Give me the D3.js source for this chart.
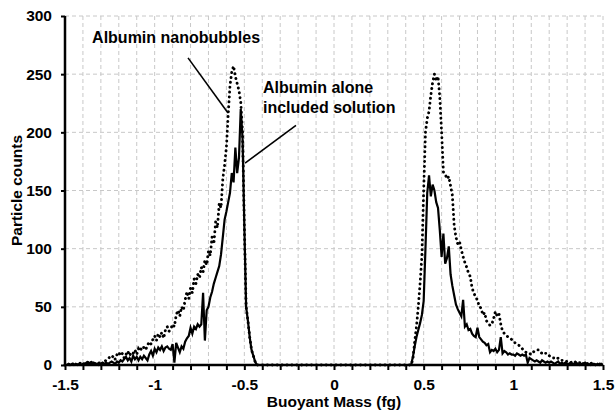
<!DOCTYPE html>
<html>
<head>
<meta charset="utf-8">
<script src="https://cdn.jsdelivr.net/npm/d3@7"></script>
<style>
  body { margin: 0; background: #fff; }
  text { font-family: "Liberation Sans", Arial, sans-serif; font-weight: bold; fill: #000; }
</style>
</head>
<body>
<svg id="canvas"></svg>
<script>
// mass bins (fg), 0.01 fg wide, around each peak
let negMass = d3.range(-150, -41).map(i => i / 100)   // -1.50 .. -0.42
let posMass = d3.range(42, 151).map(i => i / 100)     //  0.42 .. 1.50

// albumin nanobubbles (dotted)
let nanoNeg = [
  0,1,0,1,0,2,1,0,2,1,
  0,2,3,2,1,3,2,1,2,0,
  2,1,3,4,5,7,6,8,5,9,
  11,8,10,6,9,12,8,11,10,13,
  9,14,12,16,15,13,17,20,18,22,
  25,21,27,24,28,23,30,33,29,31,
  35,33,43,47,42,50,47,56,63,57,
  66,62,74,70,78,75,84,80,90,86,
  98,94,110,104,123,118,139,135,160,172,
  187,215,240,252,257,248,242,236,226,200,
  120,50,38,24,13,8,3,0,0
]
let nanoPos = [
  0,0,5,20,33,50,70,93,150,200,
  212,218,232,243,250,244,248,230,200,166,
  164,160,162,154,146,120,110,104,106,99,
  93,88,84,79,76,66,62,58,56,50,
  49,43,45,38,36,34,35,40,46,42,
  44,35,29,27,26,24,23,22,20,19,
  18,17,16,14,12,11,10,10,9,11,
  12,13,13,11,10,9,10,10,8,7,
  6,6,5,6,5,4,4,3,3,3,
  2,3,2,3,2,2,3,1,2,1,
  2,1,2,1,0,1,1,0,1
]

// albumin alone included solution (solid)
let aloneNeg = [
  0,0,1,0,1,0,1,0,1,0,
  1,1,2,1,2,1,2,1,1,2,
  1,2,1,2,1,2,3,2,1,3,
  2,4,3,5,7,4,6,3,8,5,
  7,4,7,5,8,6,4,9,12,8,
  14,11,15,13,16,12,15,16,14,13,
  18,2,19,15,11,16,14,20,23,25,
  32,27,33,31,35,33,35,62,21,47,
  50,58,63,70,75,80,85,95,110,125,
  132,140,148,165,157,187,165,178,220,195,
  120,50,38,24,13,8,3,0,0
]
let alonePos = [
  0,0,7,16,24,30,36,43,55,100,
  148,163,145,155,150,140,135,116,93,113,
  87,92,102,78,68,60,52,48,45,42,
  56,33,35,30,31,27,25,24,32,24,
  22,20,19,17,18,11,13,12,14,11,
  13,24,10,12,11,9,10,9,9,8,
  10,9,8,9,8,9,2,6,5,4,
  3,4,3,2,4,3,2,3,2,3,
  2,1,2,3,1,2,1,2,1,1,
  2,1,1,2,1,0,1,1,2,1,
  1,0,1,1,0,1,0,1,0
]

let xTicks = [-1.5, -1, -0.5, 0, 0.5, 1, 1.5]
let yTicks = [0, 50, 100, 150, 200, 250, 300]

let width = 616
let height = 414
let padLeft = 65
let padRight = 603
let padTop = 16
let padBottom = 365

let canvas = d3.select('#canvas')
               .attr('width', width)
               .attr('height', height)

let xScale = d3.scaleLinear().domain([-1.5, 1.5]).range([padLeft, padRight])
let yScale = d3.scaleLinear().domain([0, 300]).range([padBottom, padTop])

let mass = negMass.concat(posMass)
let nano = nanoNeg.concat(nanoPos)
let alone = aloneNeg.concat(alonePos)

// grid: vertical every 0.1, horizontal every 50
let minorX = d3.range(-14, 16).map(i => i / 10)
canvas.append('g')
      .selectAll('line')
      .data(minorX)
      .enter()
      .append('line')
      .attr('x1', d => xScale(d)).attr('x2', d => xScale(d))
      .attr('y1', padTop).attr('y2', padBottom)
      .attr('stroke', '#c8c8c8').attr('stroke-width', 1)
      .attr('stroke-dasharray', '4,3')

canvas.append('g')
      .selectAll('line')
      .data(yTicks.slice(1))
      .enter()
      .append('line')
      .attr('x1', padLeft).attr('x2', padRight)
      .attr('y1', d => yScale(d)).attr('y2', d => yScale(d))
      .attr('stroke', '#c8c8c8').attr('stroke-width', 1)
      .attr('stroke-dasharray', '4,3')

let line = d3.line()
             .x((d, i) => xScale(mass[i]))
             .y(d => yScale(d))

canvas.append('path')
      .datum(nano)
      .attr('d', line)
      .attr('fill', 'none')
      .attr('stroke', '#000')
      .attr('stroke-width', 2.9)
      .attr('stroke-linecap', 'round')
      .attr('stroke-dasharray', '0.1,4.8')

canvas.append('path')
      .datum(alone)
      .attr('d', line)
      .attr('fill', 'none')
      .attr('stroke', '#000')
      .attr('stroke-width', 2.2)

// axes
let xAxis = d3.axisBottom(xScale)
              .tickValues(d3.range(-15, 16).map(i => i / 10))
              .tickSize(5)
              .tickFormat(d => xTicks.some(t => Math.abs(t - d) < 1e-9) ? String(+d.toFixed(1)) : '')

let yAxis = d3.axisLeft(yScale)
              .tickValues(yTicks)
              .tickSize(4)

let gx = canvas.append('g')
      .attr('id', 'x-axis')
      .attr('transform', `translate(0, ${padBottom})`)
      .call(xAxis)

let gy = canvas.append('g')
      .attr('id', 'y-axis')
      .attr('transform', `translate(${padLeft}, 0)`)
      .call(yAxis)

gx.select('.domain').attr('stroke-width', 2.5).attr('d', `M${padLeft},0H${padRight}`)
gy.select('.domain').attr('stroke-width', 2.5).attr('d', `M0,${padTop}V${padBottom}`)
gx.selectAll('.tick line').attr('stroke-width', 2)
gy.selectAll('.tick line').attr('stroke-width', 2)
gx.selectAll('.tick text')
  .attr('font-size', 15.5).attr('font-family', null)
  .attr('y', 14).attr('dy', '0.71em')
gy.selectAll('.tick text')
  .attr('font-size', 15.5).attr('font-family', null)
  .attr('x', -13)

// axis titles
canvas.append('text')
      .attr('x', xScale(0))
      .attr('y', 407)
      .attr('text-anchor', 'middle')
      .attr('font-size', 15.5)
      .text('Buoyant Mass (fg)')

canvas.append('text')
      .attr('transform', `translate(22, ${(padTop + padBottom) / 2}) rotate(-90)`)
      .attr('text-anchor', 'middle')
      .attr('font-size', 15.5)
      .text('Particle counts')

// annotations
canvas.append('text')
      .attr('x', xScale(-1.349))
      .attr('y', yScale(277))
      .attr('font-size', 16)
      .text('Albumin nanobubbles')

canvas.append('line')
      .attr('x1', xScale(-0.814)).attr('y1', yScale(264))
      .attr('x2', xScale(-0.591)).attr('y2', yScale(216.6))
      .attr('stroke', '#000').attr('stroke-width', 1.6)

canvas.append('text')
      .attr('x', xScale(-0.396))
      .attr('y', yScale(234))
      .attr('font-size', 16)
      .text('Albumin alone')

canvas.append('text')
      .attr('x', xScale(-0.396))
      .attr('y', yScale(216.6))
      .attr('font-size', 16)
      .text('included solution')

canvas.append('line')
      .attr('x1', xScale(-0.212)).attr('y1', yScale(206))
      .attr('x2', xScale(-0.496)).attr('y2', yScale(173.6))
      .attr('stroke', '#000').attr('stroke-width', 1.6)
</script>
</body>
</html>
